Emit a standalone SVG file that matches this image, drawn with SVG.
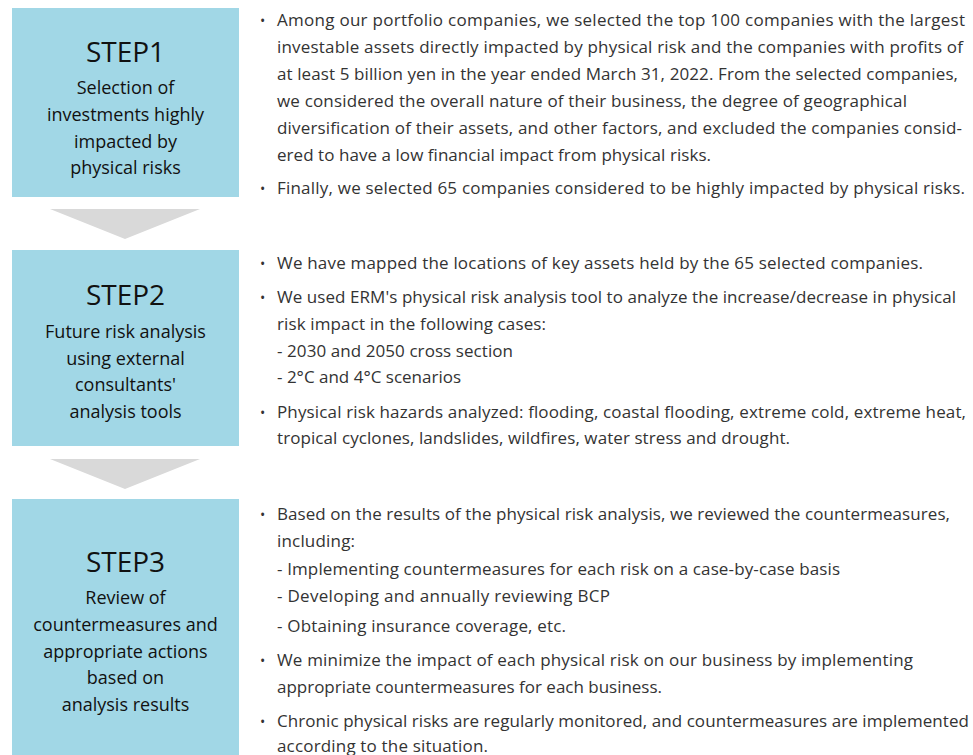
<svg xmlns="http://www.w3.org/2000/svg" width="973" height="755" viewBox="0 0 973 755">
  <style>
    .box { fill: #a1d7e6; }
    .arrow { fill: #d9d9d9; }
    .step { font-family: "Open Sans", "Noto Sans", sans-serif; font-size: 28px; fill: #111; text-anchor: middle; }
    .sub { font-family: "Open Sans", "Noto Sans", sans-serif; font-size: 18px; fill: #111; text-anchor: middle; }
    .body { font-family: "Open Sans", "Noto Sans", sans-serif; font-size: 17px; fill: #333; }
    .dot { font-family: "Open Sans", "Noto Sans", sans-serif; font-size: 14px; fill: #333; }
  </style>
  <rect width="973" height="755" fill="#ffffff"/>

  <!-- step boxes -->
  <g id="step1">
    <rect class="box" x="12" y="8" width="227" height="189"/>
    <text class="step" x="125.5" y="62">STEP1</text>
    <text class="sub" x="125.5" y="94">Selection of</text>
    <text class="sub" x="125.5" y="121">investments highly</text>
    <text class="sub" x="125.5" y="148">impacted by</text>
    <text class="sub" x="125.5" y="174">physical risks</text>
  </g>
  <g id="step2">
    <rect class="box" x="12" y="250" width="227" height="196"/>
    <text class="step" x="125.5" y="305">STEP2</text>
    <text class="sub" x="125.5" y="338">Future risk analysis</text>
    <text class="sub" x="125.5" y="365">using external</text>
    <text class="sub" x="125.5" y="391">consultants'</text>
    <text class="sub" x="125.5" y="418">analysis tools</text>
  </g>
  <g id="step3">
    <rect class="box" x="12" y="499" width="227" height="256"/>
    <text class="step" x="125.5" y="572">STEP3</text>
    <text class="sub" x="125.5" y="604">Review of</text>
    <text class="sub" x="125.5" y="631">countermeasures and</text>
    <text class="sub" x="125.5" y="658">appropriate actions</text>
    <text class="sub" x="125.5" y="684">based on</text>
    <text class="sub" x="125.5" y="711">analysis results</text>
  </g>

  <!-- flow arrows between steps -->
  <g id="connectors">
    <polygon class="arrow" points="50,209 200,209 125,239"/>
    <polygon class="arrow" points="50,459 200,459 125,489"/>
  </g>

  <!-- step 1 description -->
  <g id="desc1">
    <text class="dot" x="260" y="26">•</text>
    <text class="body" x="277" y="26" textLength="688">Among our portfolio companies, we selected the top 100 companies with the largest</text>
    <text class="body" x="277" y="53" textLength="686">investable assets directly impacted by physical risk and the companies with profits of</text>
    <text class="body" x="277" y="80" textLength="681">at least 5 billion yen in the year ended March 31, 2022. From the selected companies,</text>
    <text class="body" x="277" y="107" textLength="630">we considered the overall nature of their business, the degree of geographical</text>
    <text class="body" x="277" y="134" textLength="685">diversification of their assets, and other factors, and excluded the companies consid-</text>
    <text class="body" x="277" y="161" textLength="434">ered to have a low financial impact from physical risks.</text>
    <text class="dot" x="260" y="194">•</text>
    <text class="body" x="277" y="194" textLength="688">Finally, we selected 65 companies considered to be highly impacted by physical risks.</text>
  </g>

  <!-- step 2 description -->
  <g id="desc2">
    <text class="dot" x="260" y="269">•</text>
    <text class="body" x="277" y="269" textLength="646">We have mapped the locations of key assets held by the 65 selected companies.</text>
    <text class="dot" x="260" y="303">•</text>
    <text class="body" x="277" y="303" textLength="679">We used ERM's physical risk analysis tool to analyze the increase/decrease in physical</text>
    <text class="body" x="277" y="330" textLength="269">risk impact in the following cases:</text>
    <text class="body" x="277" y="357" textLength="236">- 2030 and 2050 cross section</text>
    <text class="body" x="277" y="383" textLength="184">- 2°C and 4°C scenarios</text>
    <text class="dot" x="260" y="418">•</text>
    <text class="body" x="277" y="418" textLength="689">Physical risk hazards analyzed: flooding, coastal flooding, extreme cold, extreme heat,</text>
    <text class="body" x="277" y="444" textLength="513">tropical cyclones, landslides, wildfires, water stress and drought.</text>
  </g>

  <!-- step 3 description -->
  <g id="desc3">
    <text class="dot" x="260" y="520">•</text>
    <text class="body" x="277" y="520" textLength="673">Based on the results of the physical risk analysis, we reviewed the countermeasures,</text>
    <text class="body" x="277" y="547" textLength="78">including:</text>
    <text class="body" x="277" y="575" textLength="563">- Implementing countermeasures for each risk on a case-by-case basis</text>
    <text class="body" x="277" y="602" textLength="333">- Developing and annually reviewing BCP</text>
    <text class="body" x="277" y="632" textLength="289">- Obtaining insurance coverage, etc.</text>
    <text class="dot" x="260" y="666">•</text>
    <text class="body" x="277" y="666" textLength="636">We minimize the impact of each physical risk on our business by implementing</text>
    <text class="body" x="277" y="693" textLength="385">appropriate countermeasures for each business.</text>
    <text class="dot" x="260" y="727">•</text>
    <text class="body" x="277" y="727" textLength="692">Chronic physical risks are regularly monitored, and countermeasures are implemented</text>
    <text class="body" x="277" y="752" textLength="211">according to the situation.</text>
  </g>
</svg>
